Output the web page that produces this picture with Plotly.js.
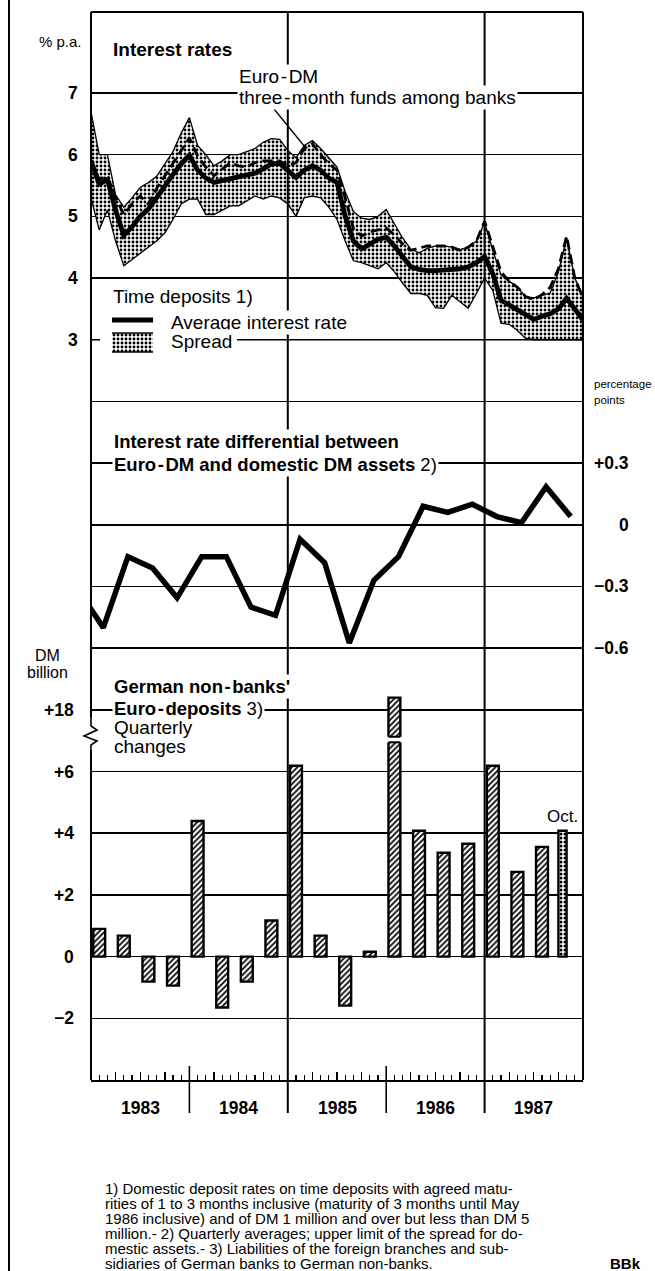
<!DOCTYPE html>
<html><head><meta charset="utf-8">
<script src="https://cdn.plot.ly/plotly-3.0.1.min.js"></script>
<style>html,body{margin:0;padding:0;background:#fff}</style>
</head><body><div id="chart" style="width:655px;height:1271px"></div>
<script>
// ---------- DATA ----------
// Monthly series, index 0 = end Dec 1982 ... index 60 = end Dec 1987 (% p.a.)
const spreadUpper = [6.7,6.0,6.0,5.35,5.15,5.3,5.47,5.55,5.65,5.85,
  6.05,6.35,6.6,6.15,6.0,5.82,5.9,6.0,6.0,6.05,
  6.1,6.2,6.26,6.25,6.07,5.95,6.15,6.23,6.1,5.95,
  5.8,5.4,5.08,4.97,4.95,5.0,5.11,4.88,4.65,4.47,
  4.41,4.48,4.52,4.52,4.5,4.46,4.5,4.6,4.9,4.45,
  4.05,3.95,3.85,3.7,3.68,3.72,3.76,4.1,4.65,4.0,3.7];
const spreadLower = [5.3,4.78,5.1,4.6,4.2,4.3,4.39,4.5,4.6,4.73,
  4.95,5.2,5.28,5.28,5.03,5.03,5.1,5.17,5.17,5.25,
  5.33,5.28,5.33,5.3,5.2,5.0,5.3,5.33,5.3,5.15,
  4.95,4.6,4.28,4.25,4.2,4.15,4.25,4.1,3.92,3.75,
  3.75,3.72,3.52,3.51,3.72,3.62,3.51,3.75,4.0,3.8,
  3.27,3.25,3.15,3.02,3.0,3.0,3.0,3.0,3.0,3.0,3.0];
const avgRate = [5.9,5.52,5.6,5.1,4.69,4.83,5.0,5.12,5.3,5.5,
  5.68,5.85,5.99,5.75,5.62,5.55,5.58,5.61,5.64,5.66,
  5.7,5.77,5.85,5.86,5.75,5.63,5.75,5.82,5.75,5.62,
  5.55,5.0,4.6,4.47,4.55,4.63,4.66,4.52,4.35,4.18,
  4.14,4.12,4.12,4.13,4.13,4.15,4.18,4.25,4.35,4.07,
  3.64,3.56,3.5,3.4,3.33,3.38,3.42,3.5,3.67,3.5,3.32];
const euroDM = [5.9,5.6,5.65,5.3,5.03,5.2,5.33,5.2,5.45,5.65,
  5.85,6.05,6.27,5.98,5.8,5.66,5.77,5.87,5.82,5.8,
  5.87,5.9,5.9,5.9,5.82,5.87,6.1,6.18,6.0,5.85,
  5.75,5.3,4.8,4.68,4.75,4.78,4.81,4.7,4.55,4.45,
  4.48,4.52,4.52,4.52,4.5,4.45,4.5,4.6,4.92,4.5,
  4.1,3.95,3.85,3.7,3.65,3.73,3.85,4.15,4.68,4.0,3.68];

// Quarterly interest rate differential (percentage points)
const diffQuarters = ['1982 Q4',
  '1983 Q1','1983 Q2','1983 Q3','1983 Q4',
  '1984 Q1','1984 Q2','1984 Q3','1984 Q4',
  '1985 Q1','1985 Q2','1985 Q3','1985 Q4',
  '1986 Q1','1986 Q2','1986 Q3','1986 Q4',
  '1987 Q1','1987 Q2','1987 Q3','1987 Q4'];
const diffValues = [-0.32,
  -0.50,-0.155,-0.21,-0.355,
  -0.155,-0.155,-0.40,-0.44,
  -0.07,-0.185,-0.575,-0.27,
  -0.155,0.09,0.06,0.10,
  0.04,0.01,0.185,0.04];

// Euro-deposits, quarterly changes (DM billion)
const depositPeriods = ['1983 Q1','1983 Q2','1983 Q3','1983 Q4',
  '1984 Q1','1984 Q2','1984 Q3','1984 Q4',
  '1985 Q1','1985 Q2','1985 Q3','1985 Q4',
  '1986 Q1','1986 Q2','1986 Q3','1986 Q4',
  '1987 Q1','1987 Q2','1987 Q3','Oct 1987'];
const depositValues = [0.9,0.68,-0.81,-0.94,
  4.4,-1.65,-0.81,1.17,
  6.19,0.68,-1.59,0.16,
  18.4,4.08,3.37,3.66,
  6.19,2.75,3.56,4.08];

// Tick labels
const topTickVals = [3,4,5,6,7];
const topTickText = ['3','4','5','6','7'];
const midTickVals = [-0.6,-0.3,0,0.3];
const midTickText = ['\u22120.6','\u22120.3','0','+0.3'];
const botTickVals = [-2,0,2,4,6,18];
const botTickText = ['\u22122','0','+2','+4','+6','+18'];
const years = ['1983','1984','1985','1986','1987'];
const footnoteLines = [
  '1) Domestic deposit rates on time deposits with agreed matu-',
  'rities of 1 to 3 months inclusive (maturity of 3 months until May',
  '1986 inclusive) and of DM 1 million and over but less than DM 5',
  'million.- 2) Quarterly averages; upper limit of the spread for do-',
  'mestic assets.- 3) Liabilities of the foreign branches and sub-',
  'sidiaries of German banks to German non-banks.'];

// ---------- HELPERS ----------
const FONT = 'Liberation Sans, Arial, Helvetica, sans-serif';
const TS = '\u200a-\u200a'; // slightly spaced hyphen as in the print
const L = 91, R = 583, T = 12, B = 1080;
const px = x => (x - L) / (R - L);
const py = y => (B - y) / (B - T);
const monthX = spreadUpper.map((_, i) => i);
const monthNames = ['Jan','Feb','Mar','Apr','May','Jun','Jul','Aug','Sep','Oct','Nov','Dec'];
function periodPos(label, qOff) {
  if (label.includes(' Q')) {
    const [y, q] = label.split(' Q');
    return (Number(y) - 1983) * 12 + (Number(q) - 1) * 3 + qOff;
  }
  const [m, y] = label.split(' ');
  return (Number(y) - 1983) * 12 + monthNames.indexOf(m) + 0.5;
}
// axis break on the deposits scale: 18 drawn where 8 would be
const BREAK_REAL = 18, BREAK_SHOWN = 8;
const shown = v => v >= 7.5 ? v - (BREAK_REAL - BREAK_SHOWN) : v;

const diffX = diffQuarters.map(q => periodPos(q, 1.5));
const barX = depositPeriods.map(p => periodPos(p, 1));
const barY = depositValues.map(shown);
const barW = depositPeriods.map(p => p.includes(' Q') ? 1.45 : 1.0);
const barPat = depositPeriods.map(p => p.includes(' Q') ? '/' : '.');

const stipple = {shape: '.', fgcolor: '#000', bgcolor: '#fff', size: 4, solidity: 0.4};

// ---------- TRACES ----------
const traces = [
  {x: monthX, y: spreadLower, mode: 'lines', line: {color: '#000', width: 1.3}, hoverinfo: 'skip'},
  {x: monthX, y: spreadUpper, mode: 'lines', line: {color: '#000', width: 1.3}, fill: 'tonexty',
   fillcolor: '#fff', fillpattern: stipple, hoverinfo: 'skip'},
  {x: monthX, y: euroDM, mode: 'lines', line: {color: '#000', width: 2.8, dash: '10px,5px'}},
  {x: monthX, y: avgRate, mode: 'lines', line: {color: '#000', width: 4.8}},
  {x: diffX, y: diffValues, yaxis: 'y2', mode: 'lines', line: {color: '#000', width: 5.5}},
  {type: 'bar', x: barX, y: barY, yaxis: 'y3', width: barW,
   marker: {color: '#fff', line: {color: '#000', width: 2.4},
            pattern: {shape: barPat, fgcolor: '#000', bgcolor: '#fff', size: 4, solidity: 0.45}}},
  // legend swatch for the spread
  {x: [0,1,1,0,0], y: [0,0,1,1,0], xaxis: 'x2', yaxis: 'y4', mode: 'lines', fill: 'toself',
   fillcolor: '#fff', fillpattern: stipple, line: {width: 0}, hoverinfo: 'skip'}
];

// ---------- SHAPES ----------
const blk = w => ({color: '#000', width: w});
const shapes = [];
const pl = (x0, y0, x1, y1, w) => shapes.push({type: 'line', xref: 'paper', yref: 'paper',
  x0: px(x0), y0: py(y0), x1: px(x1), y1: py(y1), line: blk(w)});
pl(9, 0, 9, 1271, 2);            // page border
pl(L, T, R, T, 2);               // top frame
pl(R, T, R, B, 2);               // right frame
pl(L, T, L, 717, 2);             // left frame (upper)
pl(L, 750, L, B, 2);             // left frame (lower)
// zigzag break
const zz = [[L,717],[L,726],[97,730],[84,736],[97,741],[L,745],[L,750]];
shapes.push({type: 'path', xref: 'paper', yref: 'paper', line: blk(1.6),
  path: 'M' + zz.map(p => px(p[0]) + ',' + py(p[1])).join('L')});
// year separators
[12, 24, 36, 48].forEach(m => {
  const full = (m === 24 || m === 48);
  shapes.push({type: 'line', xref: 'x', yref: 'paper', x0: m, x1: m,
    y0: py(1113), y1: full ? 1 : py(1066), line: blk(full ? 2 : 1.6)});
});
// gridline at 3 % (interrupted by legend)
shapes.push({type: 'line', xref: 'paper', yref: 'y', x0: 0, x1: px(100), y0: 3, y1: 3, line: blk(1.6)});
shapes.push({type: 'line', xref: 'paper', yref: 'y', x0: px(237), x1: 1, y0: 3, y1: 3, line: blk(1.6)});
// leader line Euro-DM
pl(274, 109, 305, 147, 1.3);
// legend swatches
pl(112, 320, 153, 320, 5);
pl(112, 333, 153, 333, 1.5);
pl(112, 352, 153, 352, 1.5);
// bar break
const bi = depositValues.findIndex(v => v >= BREAK_REAL);
const bx = barX[bi], bw = barW[bi] / 2;
shapes.push({type: 'rect', xref: 'x', yref: 'y3', x0: bx - bw - 0.2, x1: bx + bw + 0.2, y0: 6.95, y1: 7.13,
  fillcolor: '#fff', line: {width: 0}});
shapes.push({type: 'line', xref: 'x', yref: 'y3', x0: bx - bw, x1: bx + bw, y0: 6.95, y1: 6.95, line: blk(2)});
shapes.push({type: 'line', xref: 'x', yref: 'y3', x0: bx - bw, x1: bx + bw, y0: 7.13, y1: 7.13, line: blk(2)});

// ---------- ANNOTATIONS ----------
const ann = [];
function pa(text, x, y, o) {
  const base = {text: text, xref: 'paper', yref: 'paper', x: px(x), y: py(y), xanchor: 'left', yanchor: 'middle',
    showarrow: false, align: 'left', font: {family: FONT, size: 19, color: '#000'}};
  if (o && o.font) o.font = Object.assign({}, base.font, o.font);
  ann.push(Object.assign(base, o || {}));
}
const W = {bgcolor: '#fff', borderpad: 1};
const WB = Object.assign({}, W, {font: {size: 18.5}});
pa('% p.a.', 60, 41, {xanchor: 'center', font: {size: 15}});
pa('<b>Interest rates</b>', 111, 50, {font: {size: 19}});
pa('Euro' + TS + 'DM', 237, 77, W);
pa('three' + TS + 'month funds among banks', 237, 97, W);
pa('Time deposits 1)', 111, 296, W);
pa('Average interest rate', 169, 322, W);
pa('Spread', 169, 341, W);
pa('percentage', 592, 384, {font: {size: 11.5}});
pa('points', 592, 400, {font: {size: 11.5}});
pa('<b>Interest rate differential between</b>', 112, 441, Object.assign({}, WB));
pa('<b>Euro' + TS + 'DM and domestic DM assets</b> 2)', 112, 464, Object.assign({}, WB));
pa('DM', 47, 655, {xanchor: 'center', font: {size: 16}});
pa('billion', 47, 672, {xanchor: 'center', font: {size: 16}});
pa("<b>German non" + TS + "banks'</b>", 112, 686, Object.assign({}, WB));
pa('<b>Euro' + TS + 'deposits</b> 3)', 112, 708, Object.assign({}, WB));
pa('Quarterly', 112, 727);
pa('changes', 112, 746);
pa('<b>BBk</b>', 625, 1263, {xanchor: 'center', font: {size: 15}});
footnoteLines.forEach((t, i) => pa(t, 103, 1188 + i * 15, {font: {size: 15}}));

const tickFont = {family: FONT, size: 17.5, color: '#000', weight: 700};
topTickVals.forEach((v, i) => ann.push({text: topTickText[i], xref: 'paper', yref: 'y', x: px(80), y: v,
  xanchor: 'right', yanchor: 'middle', showarrow: false, font: tickFont}));
midTickVals.forEach((v, i) => ann.push({text: midTickText[i], xref: 'paper', yref: 'y2', x: px(631), y: v,
  xanchor: 'right', yanchor: 'middle', showarrow: false, font: tickFont}));
botTickVals.forEach((v, i) => ann.push({text: botTickText[i], xref: 'paper', yref: 'y3', x: px(76), y: shown(v),
  xanchor: 'right', yanchor: 'middle', showarrow: false, font: tickFont}));
years.forEach((y, i) => ann.push({text: y, xref: 'x', yref: 'paper', x: i * 12 + 6, y: py(1108),
  xanchor: 'center', yanchor: 'middle', showarrow: false, font: tickFont}));
// "Oct." above the last bar
const li = depositPeriods.length - 1;
ann.push({text: 'Oct.', xref: 'x', yref: 'y3', x: barX[li], y: barY[li], yshift: 3, xanchor: 'center',
  yanchor: 'bottom', showarrow: false, font: {family: FONT, size: 17, color: '#000'}});

// ---------- LAYOUT ----------
const grid = {showgrid: true, gridcolor: '#000', gridwidth: 1.6, zeroline: false, showline: false,
  ticks: '', showticklabels: false, fixedrange: true, tickmode: 'array'};
const layout = {
  width: 655, height: 1271,
  margin: {l: L, r: 655 - R, t: T, b: 1271 - B, pad: 0},
  paper_bgcolor: '#fff', plot_bgcolor: '#fff', showlegend: false,
  xaxis: {range: [0, 60], tickmode: 'linear', tick0: 0, dtick: 3, ticks: 'inside', ticklen: 8, tickwidth: 1.4,
    tickcolor: '#000', showticklabels: false, showgrid: false, zeroline: false, showline: true,
    linewidth: 2, linecolor: '#000', fixedrange: true,
    minor: {tick0: 0, dtick: 1, ticks: 'inside', ticklen: 5, tickwidth: 1.2, tickcolor: '#000', showgrid: false}},
  yaxis: Object.assign({}, grid, {range: [-9.0, 8.313], tickvals: [4, 5, 6, 7]}),
  yaxis2: Object.assign({}, grid, {overlaying: 'y', side: 'right', range: [-2.700, 2.4937],
    tickvals: [-0.6, -0.3, 0, 0.3, 0.6]}),
  yaxis3: Object.assign({}, grid, {overlaying: 'y', side: 'left', range: [-4.0, 30.63],
    tickvals: botTickVals.map(shown)}),
  xaxis2: {domain: [px(112), px(153)], range: [0, 1], visible: false, anchor: 'y4', fixedrange: true},
  yaxis4: {domain: [py(352), py(333)], range: [0, 1], visible: false, anchor: 'x2', fixedrange: true},
  shapes: shapes, annotations: ann,
  font: {family: FONT, color: '#000'}
};
Plotly.newPlot('chart', traces, layout, {displayModeBar: false, staticPlot: true});
</script></body></html>
